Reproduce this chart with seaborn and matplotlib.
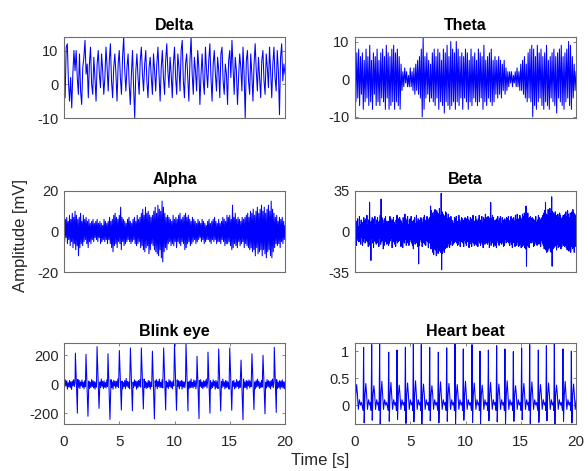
import numpy as np
import matplotlib
matplotlib.use("Agg")
import matplotlib.pyplot as plt
import seaborn as sns

# ---------------- signal data (20 s windows) ----------------
# Delta band, sampled every 0.1 s
delta_step = 0.1
delta = [
    7, -4, 11, 12, 1, -5, 2, -7, 3, 10,
    4, 10, 2, -3, 9, -2, -6, 5, 8, 13,
    3, 6, -4, 6, 11, 0, -3, 8, 2, -5,
    6, 10, 3, -1, 9, 4, -3, 2, 11, 5,
    -2, 7, 12, 1, -4, 5, 9, 3, -5, 6,
    10, 2, -3, 8, 14, 4, -2, 5, 9, 0,
    -6, 3, 10, -1, -10, 4, 9, 2, -3, 7,
    11, 3, -2, 6, 10, 1, -4, 5, 8, 2,
    -3, 9, 4, -2, 6, 11, 3, -5, 5, 10,
    2, -3, 7, 12, 4, -1, 8, 3, -4, 6,
    11, 2, -3, 9, 5, -2, 10, 13, 1, -4,
    6, 9, 2, -5, 7, 14, 3, -3, 8, 4,
    -2, 10, 5, -6, 3, 9, 1, -3, 11, 4,
    -1, 7, 12, 2, -5, 6, 10, 3, -2, 8,
    4, -4, 9, 11, 1, -3, 6, 3, -6, 7,
    10, 2, 13, 5, -3, 8, 4, -6, 2, 9,
    5, -2, 11, 3, -10, 7, 10, 1, -3, 9,
    3, -5, 6, 12, 4, -2, 8, 2, -4, 7,
    10, 1, -3, 9, 5, -1, 11, 4, -4, 6,
    11, 2, -2, 10, 4, -9, 8, 12, 1, 6,
    3,
]

# Theta band, one value every 1/12 s
theta_step = 1 / 12
theta = [
    3, -6, 7, -5, 8, -7, 6, -4, 7, -8, 5, -6,
    8, -5, 6, -7, 9, -6, 5, -8, 7, -4, 6, -7,
    8, -6, 5, -7, 7, -5, 8, -6, 6, -8, 9, -5,
    7, -8, 6, -7, 8, -6, 9, -8, 7, -6, 8, -7,
    6, -8, 4, -3, 2, -2, 3, -1, 2, -2, 1, -2,
    3, -2, 2, -3, 3, -4, 4, -3, 5, -4, 6, -5,
    8, -10, 11, -8, 6, -5, 7, -4, 5, -6, 4, -5,
    7, -6, 8, -7, 6, -5, 8, -8, 7, -6, 5, -7,
    8, -9, 7, -6, 9, -7, 6, -8, 10, -7, 8, -6,
    7, -8, 10, -6, 8, -7, 6, -5, 7, -8, 6, -5,
    8, -6, 7, -8, 5, -6, 8, -7, 6, -5, 7, -6,
    5, -7, 8, -6, 7, -5, 6, -8, 9, -6, 5, -7,
    6, -5, 7, -6, 8, -7, 5, -6, 6, -4, 5, -5,
    6, -4, 5, -5, 4, -3, 5, -4, 3, -3, 2, -2,
    2, -1, 2, -2, 1, -1, 2, -2, 3, -2, 2, -3,
    4, -3, 5, -4, 6, -5, 4, -6, 7, -5, 8, -6,
    9, -10, 8, -7, 6, -8, 9, -6, 7, -5, 8, -7,
    6, -8, 7, -6, 9, -7, 5, -8, 6, -5, 7, -6,
    8, -7, 6, -9, 7, -5, 8, -6, 9, -7, 6, -8,
    7, -6, 8, -5, 10, -7, 9, -8, 6, -5, 4, -3,
    2,
]

# Alpha band, one value every 1/16 s
alpha_step = 1 / 16
alpha = [
    4, -5, 6, -3, 7, -6, 5, -4, 8, -7, 6, -5, 9, -8, 7, -6,
    10, -9, 8, -7, 6, -12, 7, -8, 9, -6, 5, -7, 8, -5, 6, -4,
    7, -6, 5, -8, 6, -5, 4, -6, 5, -4, 6, -5, 4, -3, 5, -4,
    6, -5, 4, -3, 5, -6, 4, -5, 3, -4, 6, -5, 5, -4, 4, -6,
    5, -4, 7, -6, 5, -8, 6, -10, 8, -7, 9, -6, 7, -8, 6, -5,
    8, -6, 12, -9, 7, -5, 6, -7, 5, -6, 4, -5, 6, -4, 7, -5,
    5, -6, 4, -5, 6, -4, 7, -6, 5, -7, 8, -6, 6, -5, 7, -8,
    9, -7, 11, -9, 8, -10, 12, -8, 9, -7, 10, -11, 8, -9, 7, -6,
    8, -7, 10, -9, 12, -10, 9, -11, 13, -12, 11, -9, 10, -13, 15, -15,
    12, -10, 9, -8, 7, -9, 8, -6, 7, -5, 6, -7, 5, -6, 8, -7,
    6, -5, 7, -8, 6, -5, 8, -6, 9, -7, 6, -5, 7, -6, 8, -9,
    9, -8, 7, -6, 8, -5, 6, -7, 5, -6, 7, -5, 6, -4, 5, -6,
    4, -5, 6, -4, 5, -3, 4, -5, 6, -4, 5, -6, 4, -5, 3, -4,
    5, -4, 6, -5, 4, -6, 5, -4, 6, -5, 7, -4, 5, -6, 4, -5,
    6, -5, 4, -6, 5, -4, 7, -5, 6, -7, 5, -6, 8, -6, 7, -5,
    8, -7, 6, -9, 13, -8, 7, -6, 9, -7, 6, -8, 7, -5, 6, -7,
    5, -6, 7, -5, 6, -8, 7, -6, 8, -7, 9, -8, 7, -9, 10, -8,
    9, -10, 11, -9, 8, -12, 10, -8, 12, -11, 9, -10, 11, -9, 13, -12,
    10, -9, 12, -11, 9, -13, 11, -10, 13, -9, 10, -12, 15, -13, 11, -10,
    9, -8, 7, -6, 8, -7, 5, -6, 7, -8, 6, -5, 7, -6, 5, -4,
    3,
]

# Beta band, one value every 0.04 s
beta_step = 0.04
beta = [
    8, -10, 5, -12, 9, -6, 11, -8, 4, -9, 13, -7, 6, -11, 10, -5, 8, -12, 7, -9, 12, -6, 9, -10, 5,
    11, -8, 14, -9, 6, -13, 10, -7, 25, -12, 8, -25, 9, -6, 12, -10, 7, -14, 11, -8, 13, -9, 6, -11, 10,
    -7, 12, -10, 8, -13, 9, -6, 14, -11, 28, -9, 12, -8, 10, -15, 7, -12, 11, -9, 13, -7, 9, -11, 8, -10,
    9, -12, 7, -10, 13, -8, 11, -6, 9, -14, 10, -7, 12, -9, 8, -11, 6, -13, 10, -8, 14, -10, 7, -9, 11,
    -8, 12, -6, 10, -13, 9, -11, 7, -14, 12, -9, 8, -10, 15, -7, 11, -12, 9, -8, 13, -10, 6, -12, 10, -9,
    11, -7, 13, -10, 8, -12, 9, -15, 10, -8, 12, -11, 7, -9, 14, -10, 8, -13, 11, -28, 9, -12, 10, -7, 12,
    -9, 11, -13, 8, -10, 12, -7, 14, -11, 9, -12, 10, -8, 13, -9, 11, -14, 8, -10, 12, -9, 22, -15, 18, -13,
    16, -18, 14, -20, 17, -15, 19, -16, 13, -21, 18, -14, 16, -19, 15, -17, 20, -15, 14, -18, 33, -33, 17, -19, 15,
    -16, 14, -18, 13, -15, 17, -12, 16, -14, 11, -13, 15, -10, 12, -14, 9, -11, 13, -8, 10, -12, 9, -11, 7, -10,
    12, -9, 11, -8, 13, -10, 7, -12, 9, -11, 14, -8, 10, -13, 8, -9, 12, -7, 11, -10, 9, -13, 10, -8, 12,
    -10, 8, -12, 11, -9, 13, -7, 10, -14, 9, -11, 12, -8, 10, -13, 11, -9, 14, -10, 8, -12, 9, -11, 13, -8,
    10, -12, 9, -13, 11, -8, 14, -10, 7, -12, 10, -9, 13, -11, 8, -14, 12, -9, 10, -11, 15, -8, 12, -10, 9,
    -11, 13, -9, 12, -14, 10, -8, 25, -12, 11, -10, 14, -9, 12, -13, 8, -11, 10, -12, 9, -14, 11, -8, 13, -10,
    9, -12, 11, -8, 13, -10, 7, -11, 12, -9, 10, -13, 8, -12, 11, -7, 9, -10, 12, -8, 11, -9, 13, -10, 8,
    -12, 10, -9, 13, -11, 8, -14, 11, -9, 12, -10, 9, -13, 14, -11, 10, -12, 15, -9, 11, -13, 10, -12, 14, -11,
    12, -14, 10, -13, 15, -11, 13, -12, 16, -14, 11, -15, 22, -30, 14, -12, 16, -13, 11, -14, 12, -10, 13, -9, 11,
    -10, 12, -8, 11, -13, 9, -12, 10, -9, 13, -11, 8, -12, 10, -9, 14, -11, 12, -10, 9, -13, 11, -8, 12, -10,
    14, -12, 16, -15, 18, -13, 25, -16, 15, -18, 14, -17, 19, -15, 16, -14, 20, -17, 15, -18, 30, -30, 17, -15, 16,
    -14, 15, -13, 17, -12, 14, -16, 13, -11, 15, -14, 12, -13, 16, -12, 14, -15, 11, -13, 12, -10, 14, -12, 11, -13,
    15, -12, 17, -14, 13, -16, 18, -13, 15, -17, 12, -14, 16, -18, 14, -13, 17, -15, 19, -14, 16, -18, 15, -13, 14,
    -12,
]

# Eye blink channel: background activity every 1/16 s plus blink deflections
blink_step = 1 / 16
blink_base = [
    14, -20, 30, -12, 24, -34, 10, -18, 26, -24, 18, -36, 22, -10, 32, -16,
    12, -26, 22, -14, 34, -20, 26, -30, 16, -12, 30, -22, 14, -32, 24, -18,
    20, -24, 38, -14, 22, -30, 12, -22, 32, -16, 24, -26, 18, -34, 14, -20,
    26, -12, 22, -32, 16, -24, 36, -14, 20, -30, 24, -22, 12, -26, 30, -16,
    22, -30, 14, -20, 32, -24, 16, -34, 26, -12, 22, -28, 20, -16, 36, -22,
    14, -24, 30, -20, 22, -32, 12, -16, 26, -30, 40, -14, 20, -24, 16, -32,
    24, -16, 32, -26, 14, -22, 30, -12, 22, -34, 20, -24, 26, -14, 32, -20,
    16, -32, 24, -14, 36, -22, 20, -30, 12, -24, 26, -20, 22, -34, 14, -16,
    30, -22, 16, -26, 24, -14, 32, -32, 20, -16, 36, -24, 14, -22, 30, -26,
    20, -14, 26, -34, 22, -20, 12, -30, 32, -16, 24, -24, 16, -32, 22, -12,
    36, -26, 14, -22, 30, -16, 24, -32, 20, -14, 26, -34, 22, -20, 16, -24,
    26, -20, 32, -14, 16, -30, 22, -24, 36, -22, 14, -26, 30, -16, 24, -32,
    12, -24, 20, -34, 26, -16, 32, -22, 14, -30, 24, -20, 22, -14, 36, -26,
    22, -30, 16, -20, 24, -32, 14, -24, 30, -12, 20, -34, 26, -22, 16, -30,
    32, -16, 24, -26, 20, -22, 36, -14, 16, -32, 26, -24, 22, -20, 14, -34,
    16, -34, 30, -20, 22, -14, 26, -32, 12, -24, 32, -16, 20, -30, 24, -22,
    24, -14, 20, -30, 36, -24, 16, -22, 26, -34, 22, -12, 30, -26, 20, -16,
    14, -26, 32, -22, 16, -32, 24, -20, 36, -14, 22, -30, 12, -24, 26, -20,
    30, -20, 22, -34, 14, -26, 32, -16, 24, -22, 20, -32, 26, -14, 36, -24,
    20, -24, 26, -16, 32, -30, 14, -22, 24, -34, 22, -20, 30, -26, 16, -32,
    18,
]
blink_up_t = [1.03, 1.99, 2.99, 3.98, 5.01, 6.01, 7.00, 8.00, 9.02, 10.00,
              11.04, 12.04, 13.03, 14.00, 15.00, 16.02, 17.01, 18.01, 19.03]
blink_up = [215, 207, 260, 211, 233, 251, 251, 229, 251, 282,
            282, 193, 222, 244, 251, 167, 211, 200, 255]
blink_down_t = [1.21, 2.17, 3.17, 4.16, 5.19, 6.19, 7.18, 8.18, 9.20, 10.18,
                11.22, 12.22, 13.21, 14.18, 15.18, 16.20, 17.19, 18.19, 19.21]
blink_down = [-200, -222, -167, -244, -178, -184, -171, -240, -178, -180,
              -185, -238, -200, -185, -180, -246, -175, -205, -195]

# Heart beat channel: one entry per beat (R-peak time, R, S and T amplitudes)
beat_t = [-0.05, 0.78, 1.51, 2.23, 3.05, 3.80, 4.56, 5.28, 6.00, 6.76, 7.54,
          8.30, 9.05, 9.80, 10.59, 11.31, 12.07, 12.82, 13.57, 14.33, 15.08,
          15.81, 16.59, 17.32, 18.04, 18.82, 19.58]
beat_r = [1.00, 1.07, 1.12, 1.13, 0.98, 1.02, 1.07, 1.13, 1.12, 1.07, 0.98,
          1.06, 1.13, 1.04, 1.12, 1.00, 1.02, 1.10, 1.04, 0.99, 1.06,
          1.12, 1.02, 1.10, 1.13, 1.04, 1.00]
beat_s = [-0.30, -0.33, -0.28, -0.36, -0.30, -0.27, -0.34, -0.31, -0.36, -0.29, -0.33,
          -0.30, -0.36, -0.28, -0.32, -0.35, -0.29, -0.31, -0.36, -0.30, -0.27,
          -0.34, -0.32, -0.29, -0.36, -0.30, -0.33]
beat_tw = [0.38, 0.40, 0.36, 0.44, 0.42, 0.37, 0.41, 0.45, 0.39, 0.36, 0.43,
           0.40, 0.38, 0.44, 0.41, 0.37, 0.42, 0.39, 0.45, 0.36, 0.40,
           0.43, 0.38, 0.41, 0.37, 0.44, 0.39]
# shape of one cardiac cycle around the R peak: Q, R, S, upstroke, T, recovery
beat_offsets = [-0.05, 0.0, 0.05, 0.12, 0.20, 0.27, 0.35, 0.45, 0.55, 0.63]
beat_q = -0.10
beat_rise = 0.18
beat_tail = [0.20, -0.08, 0.10, 0.00, 0.05]

# ---------------- build series ----------------
def sampled(values, step):
    v = np.asarray(values, dtype=float)
    return np.arange(len(v)) * step, v

# blink: background samples outside the blink deflections, merged with them
bt, bv = sampled(blink_base, blink_step)
keep = np.ones(len(bt), dtype=bool)
for u, d in zip(blink_up_t, blink_down_t):
    keep &= ~((bt > u - 0.03) & (bt < d + 0.03))
blink_t = np.concatenate([bt[keep], blink_up_t, blink_down_t])
blink_v = np.concatenate([bv[keep], blink_up, blink_down])
order = np.argsort(blink_t, kind="stable")
blink_t, blink_v = blink_t[order], blink_v[order]

# heart: assemble cycles beat by beat
heart_t, heart_v = [], []
for tb, r, s, tw in zip(beat_t, beat_r, beat_s, beat_tw):
    vals = [beat_q, r, s, beat_rise, tw] + beat_tail
    heart_t += [tb + o for o in beat_offsets]
    heart_v += vals
heart_t = np.array(heart_t)
heart_v = np.array(heart_v)

panels = [
    ("Delta", *sampled(delta, delta_step), (-10, 14), [-10, 0, 10], ["-10", "0", "10"]),
    ("Theta", *sampled(theta, theta_step), (-10.3, 11.2), [-10, 0, 10], ["-10", "0", "10"]),
    ("Alpha", *sampled(alpha, alpha_step), (-20, 20), [-20, 0, 20], ["-20", "0", "20"]),
    ("Beta", *sampled(beta, beta_step), (-35, 35), [-35, 0, 35], ["-35", "0", "35"]),
    ("Blink eye", blink_t, blink_v, (-275, 285), [-200, 0, 200], ["-200", "0", "200"]),
    ("Heart beat", heart_t, heart_v, (-0.35, 1.15), [0, 0.5, 1], ["0", "0.5", "1"]),
]

# ---------------- figure ----------------
sns.set_theme(style="white")
plt.rcParams["font.family"] = ["Liberation Sans", "DejaVu Sans"]

W, H = 588, 471
fig = plt.figure(figsize=(W / 100, H / 100), dpi=100)
fig.patch.set_facecolor("white")

col_left = [64, 355]
col_width = 221
row_top = [37, 191, 343]
row_height = 81

text_col = "#262626"
box_col = "#6e6e6e"

for i, (title, t, v, ylim, yticks, ylabels) in enumerate(panels):
    r, c = divmod(i, 2)
    left = col_left[c] / W
    bottom = 1 - (row_top[r] + row_height) / H
    ax = fig.add_axes([left, bottom, col_width / W, row_height / H])
    sns.lineplot(x=t, y=v, ax=ax, color="#0000ff", linewidth=0.75,
                 estimator=None, sort=False, legend=False)
    ax.set_xlim(0, 20)
    ax.set_ylim(*ylim)
    ax.set_yticks(yticks)
    ax.set_yticklabels(ylabels)
    ax.set_xlabel("")
    ax.set_ylabel("")
    ax.set_title(title, fontsize=11.5, fontweight="bold", color="black", pad=5)
    for sp in ax.spines.values():
        sp.set_visible(True)
        sp.set_color(box_col)
        sp.set_linewidth(0.8)
    ax.tick_params(axis="y", direction="in", length=2.5, width=0.6, color=box_col,
                   labelsize=10.5, labelcolor=text_col, pad=4, left=True, right=True)
    if r == 2:
        ax.set_xticks([0, 5, 10, 15, 20])
        ax.set_xticklabels(["0", "5", "10", "15", "20"])
        ax.tick_params(axis="x", direction="in", length=2.5, width=0.6, color=box_col,
                       labelsize=11, labelcolor=text_col, pad=8, bottom=True, top=True)
    else:
        ax.set_xticks([])
    ax.set_facecolor("white")

fig.text(20 / W, 0.5, "Amplitude [mV]", rotation=90, ha="center", va="center",
         fontsize=12, color=text_col)
fig.text(320 / W, 1 - 461 / H, "Time [s]", ha="center", va="center",
         fontsize=12, color=text_col)

fig.savefig("out.png", dpi=100, facecolor="white")
